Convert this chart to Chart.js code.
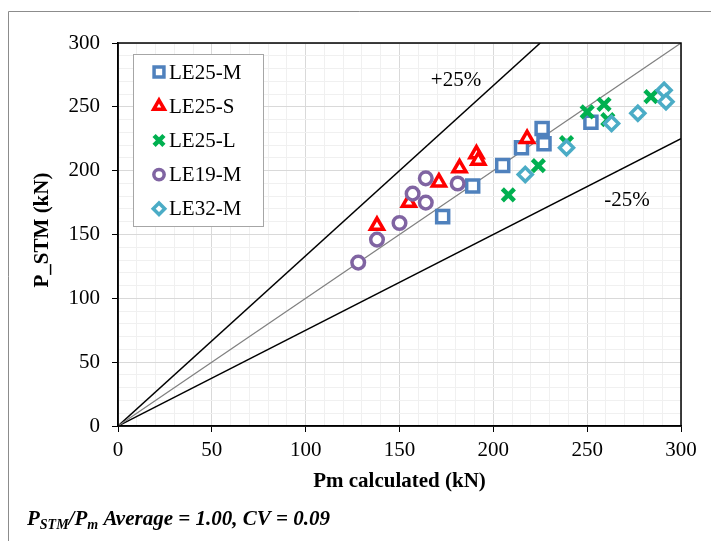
<!DOCTYPE html>
<html>
<head>
<meta charset="utf-8">
<script src="https://cdn.jsdelivr.net/npm/chart.js@4.4.1/dist/chart.umd.min.js"></script>
<style>
  html, body { margin: 0; padding: 0; background: #fff; }
  canvas { display: block; }
</style>
</head>
<body>
<canvas id="stmChart" width="711" height="541"></canvas>
<script>
// Series data (kN)
const le25mX = [173, 189, 205, 215, 226, 227, 252];
const le25mY = [164, 188, 204, 218, 233, 221, 238];
const le25sX = [138, 155, 171, 182, 191, 192, 218];
const le25sY = [157, 175, 191, 202, 213, 208, 225];
const le25lX = [208, 224, 239, 250, 259, 261, 284];
const le25lY = [181, 204, 222, 246, 252, 240, 258];
const le19mX = [128, 138, 150, 157, 164, 164, 181];
const le19mY = [128, 146, 159, 182, 194, 175, 190];
const le32mX = [217, 239, 263, 277, 291, 292];
const le32mY = [197, 218, 237, 245, 263, 254];

// reference lines: 1:1, +25%, -25%
const lineEqX = [0, 300];
const lineEqY = [0, 300];
const linePlusX = [0, 225];
const linePlusY = [0, 300];
const lineMinusX = [0, 300];
const lineMinusY = [0, 225];

const axisTicks = [0, 50, 100, 150, 200, 250, 300];

const serif = "'Liberation Serif', 'Times New Roman', serif";

function pts(xs, ys) {
  return xs.map((x, i) => ({ x: x, y: ys[i] }));
}

function series(label, xs, ys, color, style, radius, bw, order) {
  return {
    label: label,
    data: pts(xs, ys),
    showLine: false,
    borderColor: color,
    backgroundColor: "#ffffff",
    pointStyle: style,
    pointRadius: radius,
    pointBorderWidth: bw,
    order: order,
  };
}

function refLine(xs, ys, color, width) {
  return {
    label: "",
    data: pts(xs, ys),
    showLine: true,
    borderColor: color,
    borderWidth: width,
    pointRadius: 0,
    order: 10,
    isRef: true,
  };
}

const gridOpts = {
  color: (c) => (c.tick && c.tick.value % 50 === 0 ? "#d9d9d9" : "#f0f0f0"),
  tickColor: (c) => (c.tick && c.tick.value % 50 === 0 ? "#000000" : "rgba(0,0,0,0)"),
  tickLength: 6,
  lineWidth: 1,
};

// draws the frame, texts and the in-plot legend
const decorations = {
  id: "decorations",
  afterDraw(chart) {
    const ctx = chart.ctx;
    const a = chart.chartArea;
    ctx.save();

    // outer border (left and top visible)
    ctx.strokeStyle = "#8c8c8c";
    ctx.lineWidth = 1;
    ctx.beginPath();
    ctx.moveTo(8.5, 541);
    ctx.lineTo(8.5, 11.5);
    ctx.lineTo(711, 11.5);
    ctx.stroke();

    // plot frame
    ctx.strokeStyle = "#000";
    ctx.lineWidth = 1.5;
    ctx.strokeRect(a.left, a.top, a.right - a.left, a.bottom - a.top);

    // annotations
    ctx.fillStyle = "#000";
    ctx.textAlign = "center";
    ctx.textBaseline = "middle";
    ctx.font = "21px " + serif;
    ctx.fillText("+25%", 456, 80);
    ctx.fillText("-25%", 627, 200);

    // axis titles
    ctx.font = "bold 21px " + serif;
    ctx.fillText("Pm calculated (kN)", (a.left + a.right) / 2, 482);
    ctx.save();
    ctx.translate(43, 230);
    ctx.rotate(-Math.PI / 2);
    ctx.fillText("P_STM (kN)", 0, 0);
    ctx.restore();

    // caption with subscripts
    ctx.textAlign = "left";
    ctx.textBaseline = "alphabetic";
    let x = 27;
    const parts = [
      ["P", 0, 21],
      ["STM", 4, 14],
      ["/P", 0, 21],
      ["m", 4, 14],
      [" Average = 1.00, CV = 0.09", 0, 21],
    ];
    parts.forEach((p) => {
      ctx.font = "italic bold " + p[2] + "px " + serif;
      ctx.fillText(p[0], x, 525 + p[1]);
      x += ctx.measureText(p[0]).width;
    });

    // legend
    const lx = 133, ly = 54, lw = 130, lh = 172;
    ctx.fillStyle = "#fff";
    ctx.fillRect(lx, ly, lw, lh);
    ctx.strokeStyle = "#a6a6a6";
    ctx.lineWidth = 1;
    ctx.strokeRect(lx + 0.5, ly + 0.5, lw, lh);
    const items = chart.data.datasets.filter((d) => !d.isRef);
    ctx.font = "21px " + serif;
    ctx.textBaseline = "middle";
    items.forEach((d, i) => {
      const cy = 72 + i * 34.2;
      ctx.strokeStyle = d.borderColor;
      ctx.fillStyle = "#fff";
      ctx.lineWidth = d.pointBorderWidth;
      Chart.helpers.drawPoint(
        ctx,
        { pointStyle: d.pointStyle, radius: d.pointRadius * 0.82, rotation: 0, borderWidth: d.pointBorderWidth },
        159,
        cy
      );
      ctx.fillStyle = "#000";
      ctx.fillText(d.label, 169, cy + 1);
    });

    ctx.restore();
  },
};

new Chart(document.getElementById("stmChart"), {
  type: "scatter",
  data: {
    datasets: [
      series("LE25-M", le25mX, le25mY, "#4f81bd", "rect", 8.5, 3.5, 5),
      series("LE25-S", le25sX, le25sY, "#ff0000", "triangle", 7.5, 3.5, 4),
      series("LE25-L", le25lX, le25lY, "#00b050", "crossRot", 8.5, 4.5, 3),
      series("LE19-M", le19mX, le19mY, "#8064a2", "circle", 6.3, 3.5, 2),
      series("LE32-M", le32mX, le32mY, "#4bacc6", "rectRot", 7, 3.5, 1),
      refLine(lineEqX, lineEqY, "#808080", 1.2),
      refLine(linePlusX, linePlusY, "#000000", 1.5),
      refLine(lineMinusX, lineMinusY, "#000000", 1.5),
    ],
  },
  options: {
    responsive: false,
    animation: false,
    layout: { padding: { left: 0, top: 43, right: 30, bottom: 0 } },
    plugins: {
      legend: { display: false },
      tooltip: { enabled: false },
    },
    scales: {
      x: {
        type: "linear",
        min: 0,
        max: 300,
        afterFit: (s) => { s.height = 115; },
        afterBuildTicks: (s) => {
          const t = [];
          for (let v = 0; v <= 300; v += 10) t.push({ value: v });
          s.ticks = t;
        },
        ticks: {
          autoSkip: false,
          maxRotation: 0,
          padding: 6,
          color: "#000",
          font: { family: serif, size: 21 },
          callback: (v) => (axisTicks.includes(v) ? String(v) : ""),
        },
        grid: gridOpts,
        border: { color: "#000", width: 1.5 },
      },
      y: {
        type: "linear",
        min: 0,
        max: 300,
        afterFit: (s) => { s.width = 118; },
        afterBuildTicks: (s) => {
          const t = [];
          for (let v = 0; v <= 300; v += 10) t.push({ value: v });
          s.ticks = t;
        },
        ticks: {
          autoSkip: false,
          padding: 12,
          color: "#000",
          font: { family: serif, size: 21 },
          callback: (v) => (axisTicks.includes(v) ? String(v) : ""),
        },
        grid: gridOpts,
        border: { color: "#000", width: 1.5 },
      },
    },
  },
  plugins: [decorations],
});
</script>
</body>
</html>
